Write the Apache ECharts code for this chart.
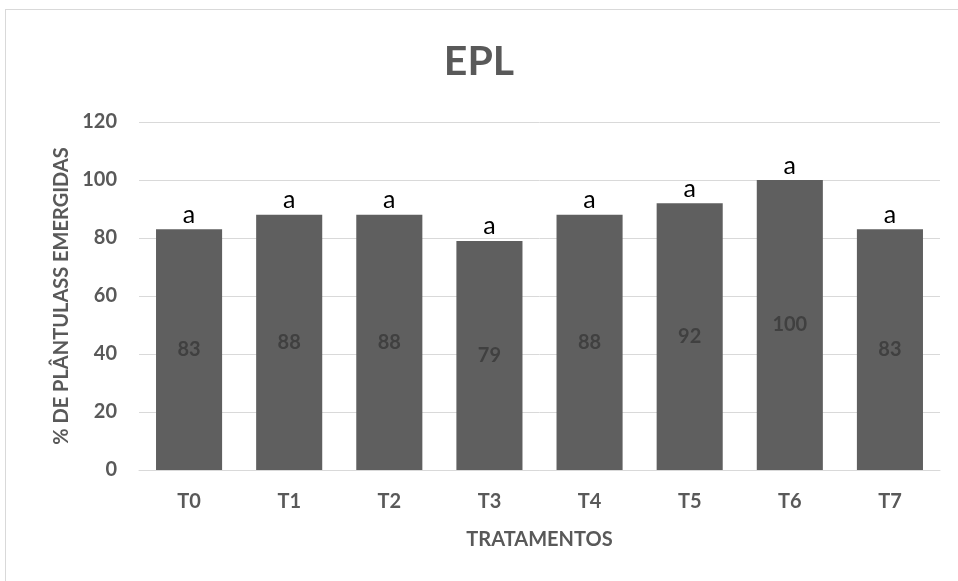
<!DOCTYPE html>
<html>
<head>
<meta charset="utf-8">
<script src="https://cdn.jsdelivr.net/npm/echarts@6/dist/echarts.min.js"></script>
<style>
  html, body { margin: 0; padding: 0; background: #fff; }
  #frame { position: absolute; left: 5px; top: 9px; width: 960px; height: 580px; border: 1px solid #d9d9d9; box-sizing: border-box; }
  #chart { width: 958px; height: 581px; position: absolute; left: 0; top: 0; }
</style>
</head>
<body>
<div id="frame"></div>
<div id="chart"></div>
<script>
// Emergence percentage per treatment
const categories = ['T0', 'T1', 'T2', 'T3', 'T4', 'T5', 'T6', 'T7'];
const emergence = [83, 88, 88, 79, 88, 92, 100, 83];
const groupLetters = ['a', 'a', 'a', 'a', 'a', 'a', 'a', 'a'];
const yTicks = { min: 0, max: 120, interval: 20 };

const font = 'Lato, "Open Sans", sans-serif';
const grey = '#595959';

const chart = echarts.init(document.getElementById('chart'), null, { renderer: 'canvas' });
chart.setOption({
  backgroundColor: 'transparent',
  animation: false,
  title: {
    text: 'EPL',
    left: 'center',
    top: 36,
    textStyle: { fontFamily: font, fontSize: 41, fontWeight: 'bold', color: grey }
  },
  grid: { left: 139, right: 18, top: 122, bottom: 111, containLabel: false },
  xAxis: {
    type: 'category',
    data: categories,
    name: 'TRATAMENTOS',
    nameLocation: 'middle',
    nameGap: 60,
    nameTextStyle: { fontFamily: font, fontSize: 20, fontWeight: 'bold', color: grey },
    axisLine: { lineStyle: { color: '#d9d9d9', width: 1 } },
    axisTick: { show: false },
    axisLabel: { fontFamily: font, fontSize: 20, fontWeight: 'bold', color: grey, margin: 22 }
  },
  yAxis: {
    type: 'value',
    min: yTicks.min,
    max: yTicks.max,
    interval: yTicks.interval,
    name: '% DE PLÂNTULASS EMERGIDAS',
    nameLocation: 'middle',
    nameGap: 66,
    nameTextStyle: { fontFamily: font, fontSize: 20, fontWeight: 'bold', color: grey },
    axisLine: { show: false },
    axisTick: { show: false },
    axisLabel: { fontFamily: font, fontSize: 20, fontWeight: 'bold', color: grey, margin: 22 },
    splitLine: { lineStyle: { color: '#d9d9d9', width: 1 } }
  },
  series: [
    {
      type: 'bar',
      data: emergence,
      barWidth: '66%',
      itemStyle: { color: '#5f5f5f' },
      label: {
        show: true,
        position: 'inside',
        fontFamily: font,
        fontSize: 20,
        fontWeight: 'bold',
        color: '#404040'
      },
      z: 2
    },
    {
      type: 'bar',
      data: emergence,
      barWidth: '66%',
      barGap: '-100%',
      itemStyle: { color: 'transparent' },
      label: {
        show: true,
        position: 'top',
        distance: 2,
        formatter: p => groupLetters[p.dataIndex],
        fontFamily: font,
        fontSize: 25,
        color: '#000'
      },
      z: 3
    }
  ]
});
</script>
</body>
</html>
